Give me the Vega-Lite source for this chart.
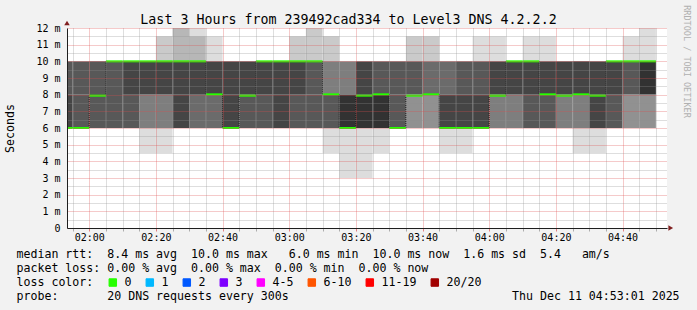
{
  "$schema": "https://vega.github.io/schema/vega-lite/v6.json",
  "width": 600,
  "height": 200,
  "autosize": {"type": "none"},
  "padding": {"left": 67, "top": 28, "right": 30, "bottom": 82},
  "background": "#f2f2f2",
  "view": {"fill": "white", "stroke": null},
  "config": {"font": "DejaVu Sans Mono"},
  "title": {
    "text": "Last 3 Hours from 239492cad334 to Level3 DNS 4.2.2.2",
    "font": "DejaVu Sans Mono", "fontSize": 13.3, "fontWeight": "normal", "color": "black",
    "anchor": "middle", "frame": "group", "dx": -18.5, "offset": -32.5, "baseline": "alphabetic"
  },
  "datasets": {
    "smoke": [
      {"t0":110,"t1":115,"lo":8,"hi":10,"r":8},{"t0":110,"t1":115,"lo":6,"hi":8,"r":9},
      {"t0":115,"t1":120,"lo":8,"hi":10,"r":8},{"t0":115,"t1":120,"lo":6,"hi":8,"r":8},
      {"t0":120,"t1":125,"lo":6,"hi":10,"r":8},
      {"t0":125,"t1":130,"lo":6,"hi":10,"r":8},
      {"t0":130,"t1":135,"lo":8,"hi":10,"r":9},{"t0":130,"t1":135,"lo":6,"hi":8,"r":8},
      {"t0":135,"t1":140,"lo":8,"hi":10,"r":9},{"t0":135,"t1":140,"lo":6,"hi":8,"r":6},{"t0":135,"t1":140,"lo":4.5,"hi":6,"r":1},
      {"t0":140,"t1":145,"lo":10,"hi":11.5,"r":2},{"t0":140,"t1":145,"lo":8,"hi":10,"r":9},{"t0":140,"t1":145,"lo":6,"hi":8,"r":6},{"t0":140,"t1":145,"lo":4.5,"hi":6,"r":1},
      {"t0":145,"t1":150,"lo":10,"hi":12,"r":3},{"t0":145,"t1":150,"lo":8,"hi":10,"r":9},{"t0":145,"t1":150,"lo":6,"hi":8,"r":9},
      {"t0":150,"t1":155,"lo":11.5,"hi":12,"r":1},{"t0":150,"t1":155,"lo":10,"hi":11.5,"r":3},{"t0":150,"t1":155,"lo":8,"hi":10,"r":9},{"t0":150,"t1":155,"lo":6,"hi":8,"r":7},
      {"t0":155,"t1":160,"lo":10,"hi":11.5,"r":1},{"t0":155,"t1":160,"lo":8,"hi":10,"r":9},{"t0":155,"t1":160,"lo":6,"hi":8,"r":7},
      {"t0":160,"t1":165,"lo":8,"hi":10,"r":9},{"t0":160,"t1":165,"lo":6,"hi":8,"r":9},
      {"t0":165,"t1":170,"lo":8,"hi":10,"r":9},{"t0":165,"t1":170,"lo":6,"hi":8,"r":8},
      {"t0":170,"t1":175,"lo":8,"hi":10,"r":9},{"t0":170,"t1":175,"lo":6,"hi":8,"r":8},
      {"t0":175,"t1":180,"lo":8,"hi":10,"r":9},{"t0":175,"t1":180,"lo":6,"hi":8,"r":9},
      {"t0":180,"t1":185,"lo":10,"hi":11.5,"r":2},{"t0":180,"t1":185,"lo":8,"hi":10,"r":9},{"t0":180,"t1":185,"lo":6,"hi":8,"r":8},
      {"t0":185,"t1":190,"lo":10,"hi":12,"r":2},{"t0":185,"t1":190,"lo":8,"hi":10,"r":8},{"t0":185,"t1":190,"lo":6,"hi":8,"r":8},
      {"t0":190,"t1":195,"lo":10,"hi":11.5,"r":2},{"t0":190,"t1":195,"lo":8,"hi":10,"r":6},{"t0":190,"t1":195,"lo":6,"hi":8,"r":8},{"t0":190,"t1":195,"lo":4.5,"hi":6,"r":1},
      {"t0":195,"t1":200,"lo":8,"hi":10,"r":6},{"t0":195,"t1":200,"lo":6,"hi":8,"r":10},{"t0":195,"t1":200,"lo":3,"hi":6,"r":1},
      {"t0":200,"t1":205,"lo":8,"hi":10,"r":9},{"t0":200,"t1":205,"lo":6,"hi":8,"r":10},{"t0":200,"t1":205,"lo":3,"hi":6,"r":1},
      {"t0":205,"t1":210,"lo":8,"hi":10,"r":8},{"t0":205,"t1":210,"lo":6,"hi":8,"r":10},{"t0":205,"t1":210,"lo":4.5,"hi":6,"r":1},
      {"t0":210,"t1":215,"lo":8,"hi":10,"r":8},{"t0":210,"t1":215,"lo":6,"hi":8,"r":8},
      {"t0":215,"t1":220,"lo":10,"hi":11.5,"r":2},{"t0":215,"t1":220,"lo":8,"hi":10,"r":8},{"t0":215,"t1":220,"lo":6,"hi":8,"r":5},
      {"t0":220,"t1":225,"lo":10,"hi":11.5,"r":2},{"t0":220,"t1":225,"lo":8,"hi":10,"r":7},{"t0":220,"t1":225,"lo":6,"hi":8,"r":5},
      {"t0":225,"t1":230,"lo":8,"hi":10,"r":7},{"t0":225,"t1":230,"lo":6,"hi":8,"r":9},{"t0":225,"t1":230,"lo":4.5,"hi":6,"r":1},
      {"t0":230,"t1":235,"lo":8,"hi":10,"r":8},{"t0":230,"t1":235,"lo":6,"hi":8,"r":9},{"t0":230,"t1":235,"lo":4.5,"hi":6,"r":1},
      {"t0":235,"t1":240,"lo":10,"hi":11.5,"r":1},{"t0":235,"t1":240,"lo":8,"hi":10,"r":8},{"t0":235,"t1":240,"lo":6,"hi":8,"r":9},
      {"t0":240,"t1":245,"lo":10,"hi":11.5,"r":1},{"t0":240,"t1":245,"lo":8,"hi":10,"r":9},{"t0":240,"t1":245,"lo":6,"hi":8,"r":6},
      {"t0":245,"t1":250,"lo":8,"hi":10,"r":9},{"t0":245,"t1":250,"lo":6,"hi":8,"r":6},
      {"t0":250,"t1":255,"lo":10,"hi":11.5,"r":1},{"t0":250,"t1":255,"lo":8,"hi":10,"r":9},{"t0":250,"t1":255,"lo":6,"hi":8,"r":8},
      {"t0":255,"t1":260,"lo":10,"hi":11.5,"r":1},{"t0":255,"t1":260,"lo":8,"hi":10,"r":9},{"t0":255,"t1":260,"lo":6,"hi":8,"r":8},
      {"t0":260,"t1":265,"lo":8,"hi":10,"r":9},{"t0":260,"t1":265,"lo":6,"hi":8,"r":6},
      {"t0":265,"t1":270,"lo":8,"hi":10,"r":9},{"t0":265,"t1":270,"lo":6,"hi":8,"r":6},{"t0":265,"t1":270,"lo":4.5,"hi":6,"r":1},
      {"t0":270,"t1":275,"lo":8,"hi":10,"r":9},{"t0":270,"t1":275,"lo":6,"hi":8,"r":9},{"t0":270,"t1":275,"lo":4.5,"hi":6,"r":1},
      {"t0":275,"t1":280,"lo":8,"hi":10,"r":9},{"t0":275,"t1":280,"lo":6,"hi":8,"r":8},
      {"t0":280,"t1":285,"lo":10,"hi":11.5,"r":1},{"t0":280,"t1":285,"lo":8,"hi":10,"r":8},{"t0":280,"t1":285,"lo":6,"hi":8,"r":5},
      {"t0":285,"t1":290,"lo":10,"hi":12,"r":1},{"t0":285,"t1":290,"lo":8,"hi":10,"r":10},{"t0":285,"t1":290,"lo":6,"hi":8,"r":5}
    ],
    "median": [
      {"t0":110,"t1":115,"med":6,"loss":"0"},{"t0":115,"t1":120,"med":6,"loss":"0"},
      {"t0":120,"t1":125,"med":7.94,"loss":"0"},{"t0":125,"t1":130,"med":10,"loss":"0"},
      {"t0":130,"t1":135,"med":10,"loss":"0"},{"t0":135,"t1":140,"med":10,"loss":"0"},
      {"t0":140,"t1":145,"med":10,"loss":"0"},{"t0":145,"t1":150,"med":10,"loss":"0"},
      {"t0":150,"t1":155,"med":10,"loss":"0"},{"t0":155,"t1":160,"med":8.02,"loss":"0"},
      {"t0":160,"t1":165,"med":6,"loss":"0"},{"t0":165,"t1":170,"med":7.94,"loss":"0"},
      {"t0":170,"t1":175,"med":10,"loss":"0"},{"t0":175,"t1":180,"med":10,"loss":"0"},
      {"t0":180,"t1":185,"med":10,"loss":"0"},{"t0":185,"t1":190,"med":10,"loss":"0"},
      {"t0":190,"t1":195,"med":8.02,"loss":"0"},{"t0":195,"t1":200,"med":6,"loss":"0"},
      {"t0":200,"t1":205,"med":7.94,"loss":"0"},{"t0":205,"t1":210,"med":8.02,"loss":"0"},
      {"t0":210,"t1":215,"med":6,"loss":"0"},{"t0":215,"t1":220,"med":7.94,"loss":"0"},
      {"t0":220,"t1":225,"med":8.02,"loss":"0"},{"t0":225,"t1":230,"med":6,"loss":"0"},
      {"t0":230,"t1":235,"med":6,"loss":"0"},{"t0":235,"t1":240,"med":6,"loss":"0"},
      {"t0":240,"t1":245,"med":7.94,"loss":"0"},{"t0":245,"t1":250,"med":10,"loss":"0"},
      {"t0":250,"t1":255,"med":10,"loss":"0"},{"t0":255,"t1":260,"med":8.02,"loss":"0"},
      {"t0":260,"t1":265,"med":7.94,"loss":"0"},{"t0":265,"t1":270,"med":8.02,"loss":"0"},
      {"t0":270,"t1":275,"med":7.94,"loss":"0"},{"t0":275,"t1":280,"med":10,"loss":"0"},
      {"t0":280,"t1":285,"med":10,"loss":"0"},{"t0":285,"t1":290,"med":10,"loss":"0"}
    ],
    "steps": [
      {"t0":120,"a":6,"b":7.94},{"t0":125,"a":7.94,"b":10},{"t0":155,"a":10,"b":8.02},
      {"t0":160,"a":8.02,"b":6},{"t0":165,"a":6,"b":7.94},{"t0":170,"a":7.94,"b":10},
      {"t0":190,"a":10,"b":8.02},{"t0":195,"a":8.02,"b":6},{"t0":200,"a":6,"b":7.94},
      {"t0":210,"a":8.02,"b":6},{"t0":215,"a":6,"b":7.94},{"t0":225,"a":8.02,"b":6},
      {"t0":240,"a":6,"b":7.94},{"t0":245,"a":7.94,"b":10},{"t0":255,"a":10,"b":8.02},
      {"t0":275,"a":7.94,"b":10}
    ],
    "arrowX": [{"t0": 294.45, "v": 0}],
    "arrowY": [{"t0": 113.3333, "v": 12.3}]
  },
  "encoding": {
    "x": {
      "field": "t0", "type": "quantitative",
      "scale": {"domain": [113.3333, 293.3333], "nice": false, "zero": false},
      "axis": {
        "values": [115,120,125,130,135,140,145,150,155,160,165,170,175,180,185,190,195,200,205,210,215,220,225,230,235,240,245,250,255,260,265,270,275,280,285,290],
        "labelExpr": "datum.value % 20 === 0 ? '0' + floor(datum.value / 60) + ':' + (datum.value % 60 === 0 ? '00' : '' + (datum.value % 60)) : ''",
        "labelFont": "DejaVu Sans Mono", "labelFontSize": 10, "labelColor": "black", "labelPadding": 1,
        "labelFlush": false, "labelOverlap": false,
        "ticks": true, "tickSize": 3,
        "tickColor": {"condition": {"test": "datum.value % 20 === 0", "value": "#de4f4f"}, "value": "#8f8f8f"},
        "tickOpacity": 0.7,
        "grid": true, "gridDash": [1, 1], "gridOpacity": 0.6,
        "gridColor": {"condition": {"test": "datum.value % 20 === 0", "value": "#de4f4f"}, "value": "#8f8f8f"},
        "domain": true, "domainColor": "#1f1f1f", "domainWidth": 1,
        "zindex": 1,
        "title": [
          "median rtt:\u00a0\u00a08.4 ms avg\u00a0\u00a010.0 ms max\u00a0\u00a0\u00a06.0 ms min\u00a0\u00a010.0 ms now\u00a0\u00a01.6 ms sd\u00a0\u00a05.4\u00a0\u00a0\u00a0am/s",
          "packet loss: 0.00 % avg\u00a0\u00a00.00 % max\u00a0\u00a00.00 % min\u00a0\u00a00.00 % now",
          "loss color:",
          "probe:\u00a0\u00a0\u00a0\u00a0\u00a0\u00a0\u00a020 DNS requests every 300s\u00a0\u00a0\u00a0\u00a0\u00a0\u00a0\u00a0\u00a0\u00a0\u00a0\u00a0\u00a0\u00a0\u00a0\u00a0\u00a0\u00a0\u00a0\u00a0\u00a0\u00a0\u00a0\u00a0\u00a0\u00a0\u00a0\u00a0\u00a0\u00a0\u00a0\u00a0\u00a0Thu Dec 11 04:53:01 2025"
        ],
        "titleFont": "DejaVu Sans Mono", "titleFontSize": 11.6, "titleFontWeight": "normal", "titleColor": "black",
        "titleAlign": "left", "titleAnchor": "start", "titleBaseline": "alphabetic",
        "titleX": -51, "titleY": 29.5, "titleLineHeight": 13.9, "titleLimit": 1000
      }
    }
  },
  "layer": [
    {
      "data": {"name": "smoke"},
      "mark": {"type": "rect", "clip": true},
      "encoding": {
        "x2": {"field": "t1"},
        "y": {
          "field": "lo", "type": "quantitative",
          "scale": {"domain": [0, 12], "nice": false, "zero": true},
          "axis": {
            "values": [0,0.5,1,1.5,2,2.5,3,3.5,4,4.5,5,5.5,6,6.5,7,7.5,8,8.5,9,9.5,10,10.5,11,11.5,12],
            "labelExpr": "datum.value === 0 ? '0\u00a0\u00a0' : (datum.value % 1 === 0 ? datum.value + ' m' : '')",
            "labelFont": "DejaVu Sans Mono", "labelFontSize": 10, "labelColor": "black", "labelPadding": 7,
            "labelOverlap": false, "labelFlush": false,
            "ticks": false,
            "grid": true, "gridDash": [1, 1], "gridOpacity": 0.6,
            "gridColor": {"condition": {"test": "datum.value % 1 === 0", "value": "#de4f4f"}, "value": "#8f8f8f"},
            "domain": true, "domainColor": "#1f1f1f", "domainWidth": 1,
            "zindex": 1,
            "title": "Seconds",
            "titleFont": "DejaVu Sans Mono", "titleFontSize": 11.6, "titleFontWeight": "normal", "titleColor": "black",
            "titleAngle": 270, "titleX": -57, "titleY": 100, "titleAlign": "center", "titleBaseline": "middle"
          }
        },
        "y2": {"field": "hi"},
        "fill": {
          "field": "r", "type": "ordinal",
          "scale": {"domain": [1,2,3,4,5,6,7,8,9,10], "range": ["#dddddd","#cacaca","#b7b7b7","#a4a4a4","#919191","#7e7e7e","#6b6b6b","#585858","#454545","#323232"]},
          "legend": null
        }
      }
    },
    {
      "data": {"name": "steps"},
      "mark": {"type": "rule", "strokeWidth": 1, "strokeDash": [1, 1], "color": "#111111", "clip": true},
      "encoding": {
        "y": {"field": "a", "type": "quantitative", "scale": {"domain": [0, 12], "nice": false}, "axis": null},
        "y2": {"field": "b"}
      }
    },
    {
      "data": {"name": "median"},
      "mark": {"type": "rule", "strokeWidth": 2, "clip": true, "strokeCap": "butt"},
      "encoding": {
        "x2": {"field": "t1"},
        "y": {
          "field": "med", "type": "quantitative",
          "scale": {"domain": [0, 12], "nice": false, "zero": true},
          "axis": {
            "orient": "right", "title": "RRDTOOL / TOBI OETIKER",
            "labels": false, "ticks": false, "domain": false, "grid": false,
            "titleFont": "DejaVu Sans Mono", "titleFontSize": 8.5, "titleFontWeight": "normal", "titleColor": "#b0b0b0",
            "titleAngle": 90, "titleX": 19, "titleY": 33, "titleAlign": "center", "titleBaseline": "middle"
          }
        },
        "color": {
          "field": "loss", "type": "nominal",
          "scale": {
            "domain": ["0","1","2","3","4-5","6-10","11-19","20/20"],
            "range": ["#26ff00","#00b8ff","#0059ff","#7e00ff","#ff00ff","#ff5500","#ff0000","#a10000"]
          },
          "legend": {
            "orient": "none", "legendX": 40, "legendY": 248.5, "direction": "horizontal",
            "title": null, "padding": 0,
            "symbolType": "square", "symbolSize": 56, "symbolStrokeWidth": 1, "symbolStrokeColor": "black",
            "labelFont": "DejaVu Sans Mono", "labelFontSize": 11.6, "labelColor": "black",
            "labelOffset": 6, "columnPadding": 12,
            "encode": {"symbols": {"update": {"fill": {"scale": "color", "field": "value"}, "stroke": {"value": "black"}, "strokeWidth": {"value": 1}, "opacity": {"value": 1}}}}
          }
        }
      }
    },
    {
      "data": {"name": "arrowX"},
      "mark": {"type": "point", "shape": "triangle-right", "size": 30, "filled": true, "color": "#801f1f", "opacity": 1, "clip": false},
      "encoding": {
        "y": {"field": "v", "type": "quantitative", "scale": {"domain": [0, 12], "nice": false}, "axis": null}
      }
    },
    {
      "data": {"name": "arrowY"},
      "mark": {"type": "point", "shape": "triangle-up", "size": 30, "filled": true, "color": "#801f1f", "opacity": 1, "clip": false},
      "encoding": {
        "y": {"field": "v", "type": "quantitative", "scale": {"domain": [0, 12], "nice": false}, "axis": null}
      }
    }
  ],
  "resolve": {"axis": {"y": "independent"}}
}
